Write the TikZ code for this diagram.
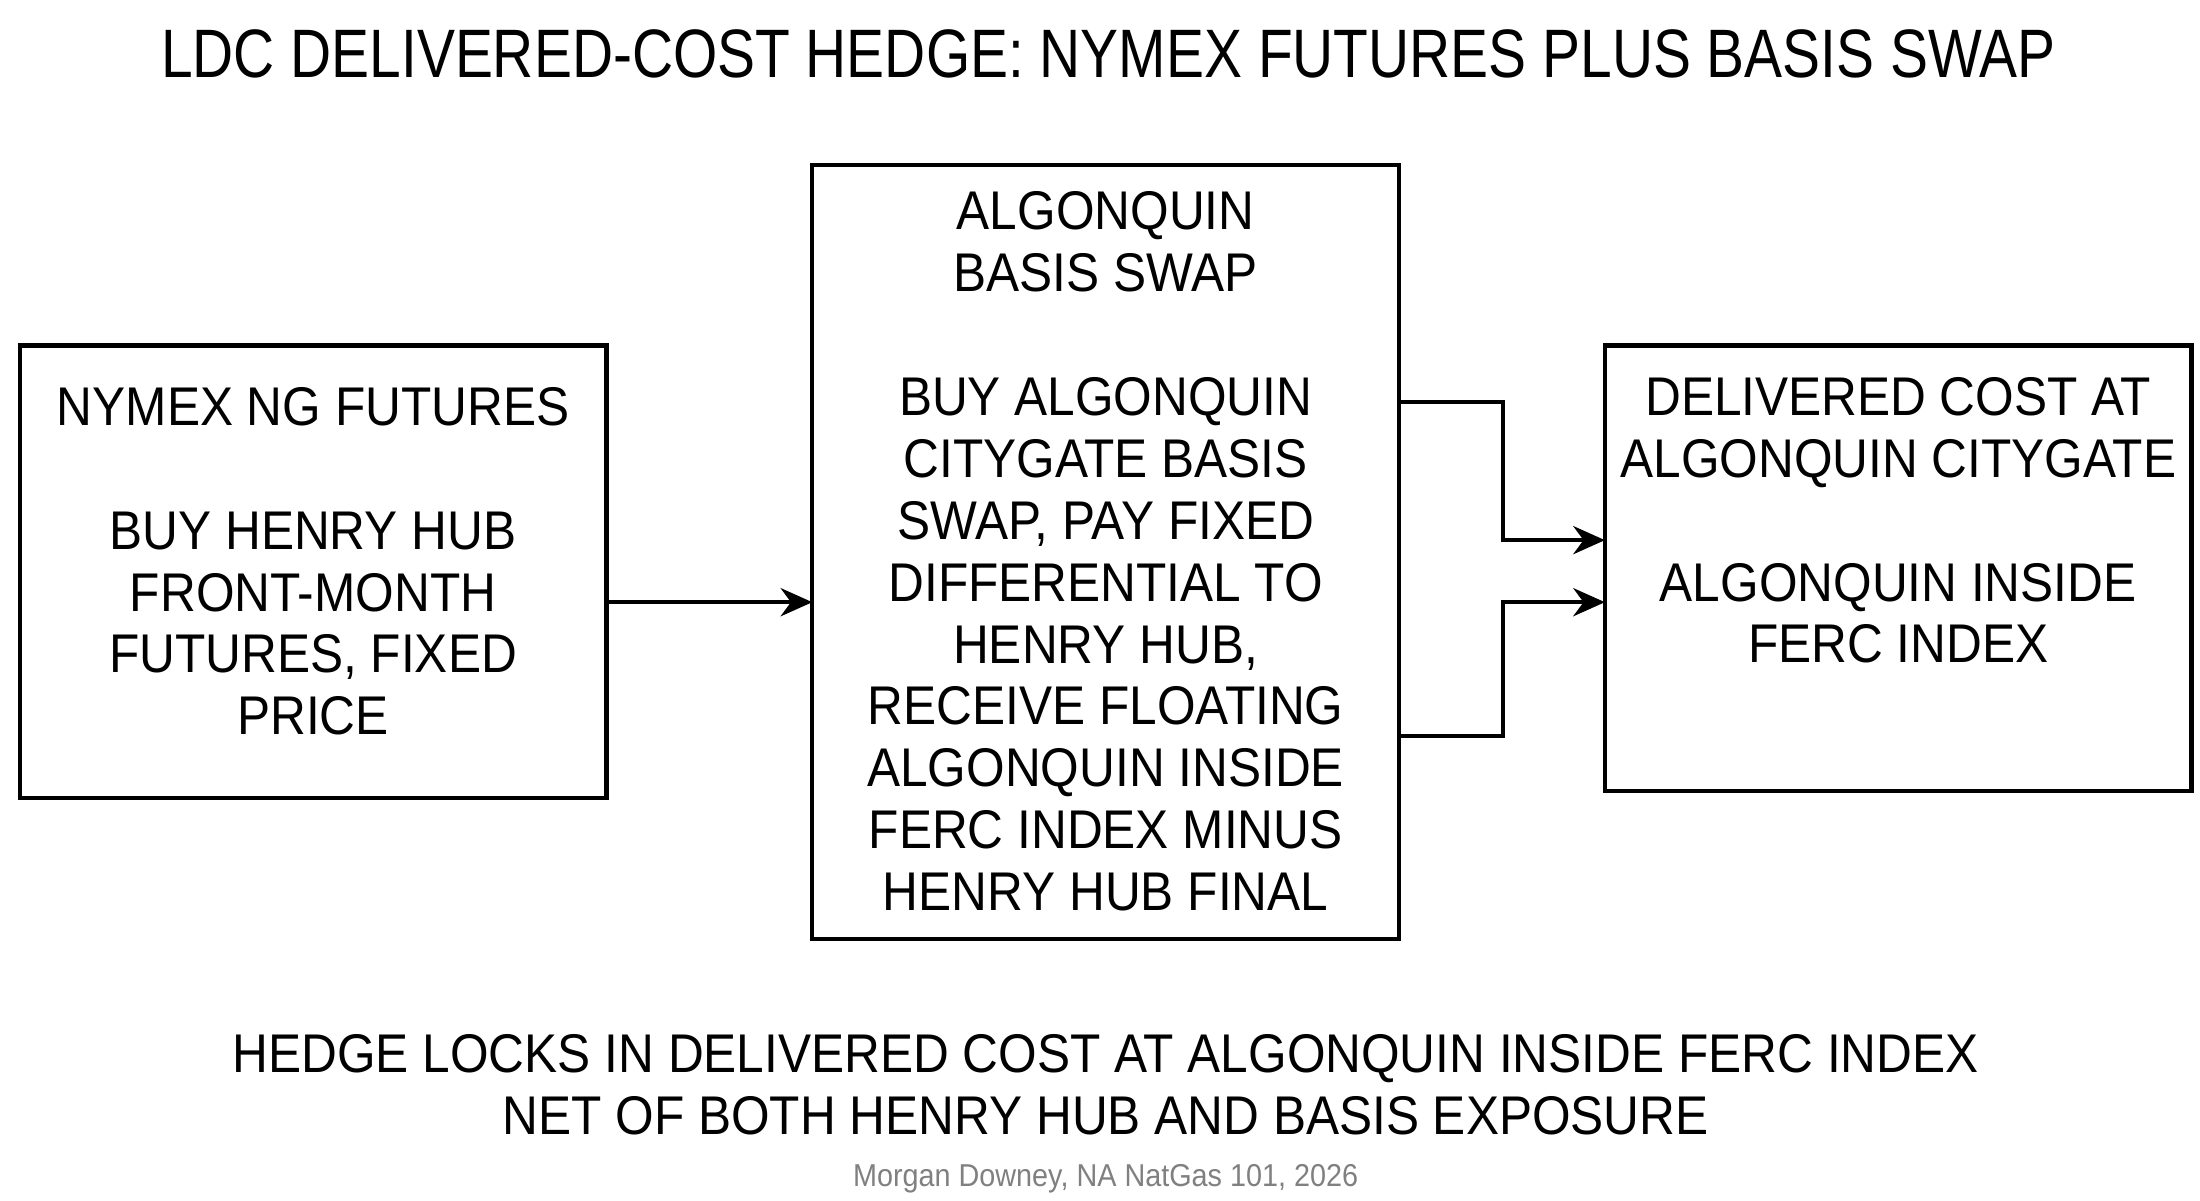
\documentclass[tikz,border=0pt]{standalone}
\usepackage{fontspec}
\setmainfont{Liberation Sans}[FakeStretch=0.91]
\usetikzlibrary{arrows.meta,positioning}

\begin{document}
\begin{tikzpicture}[
x=0.0141cm, y=-0.0141cm,
box/.style={draw, line width=1.2pt},
label/.style={align=center, font=\fontsize{15.5}{17.6}\selectfont},
link/.style={line width=1.2pt, -{Stealth[length=9pt,width=8pt]}}]
\useasboundingbox (0,0) rectangle (1560,851);
% Title
\node[font=\fontsize{19.5}{24}\addfontfeature{FakeStretch=0.83}] (title) at (786,38) {LDC DELIVERED-COST HEDGE: NYMEX FUTURES PLUS BASIS SWAP};
% Boxes
\draw[box] (14,245) rectangle (430,566);
\draw[box] (576,117) rectangle (992,666);
\draw[box] (1138,245) rectangle (1554,561);
\coordinate (futR) at (430,427);
\coordinate (swapL) at (576,427);
\coordinate (swapR1) at (992,285);
\coordinate (swapR2) at (992,522);
\coordinate (costL1) at (1138,383);
\coordinate (costL2) at (1138,427);
% Texts
\node[label] (fut) at (222,398) {NYMEX NG FUTURES\\[\baselineskip]BUY HENRY HUB\\FRONT-MONTH\\FUTURES, FIXED\\PRICE};
\node[label] (swap) at (784,391) {ALGONQUIN\\BASIS SWAP\\[\baselineskip]BUY ALGONQUIN\\CITYGATE BASIS\\SWAP, PAY FIXED\\DIFFERENTIAL TO\\HENRY HUB,\\RECEIVE FLOATING\\ALGONQUIN INSIDE\\FERC INDEX MINUS\\HENRY HUB FINAL};
\node[label] (cost) at (1346,369) {DELIVERED COST AT\\ALGONQUIN CITYGATE\\[\baselineskip]ALGONQUIN INSIDE\\FERC INDEX};
% Lines
\draw[link] (futR) -- (swapL);
\draw[link] (swapR1) -| (1066,383) -- (costL1);
\draw[link] (swapR2) -| (1066,427) -- (costL2);
% Notes
\node[label] (note) at (784,769) {HEDGE LOCKS IN DELIVERED COST AT ALGONQUIN INSIDE FERC INDEX\\NET OF BOTH HENRY HUB AND BASIS EXPOSURE};
\node[font=\fontsize{9}{11}\selectfont, text=gray] (credit) at (784,836) {Morgan Downey, NA NatGas 101, 2026};
\end{tikzpicture}
\end{document}
